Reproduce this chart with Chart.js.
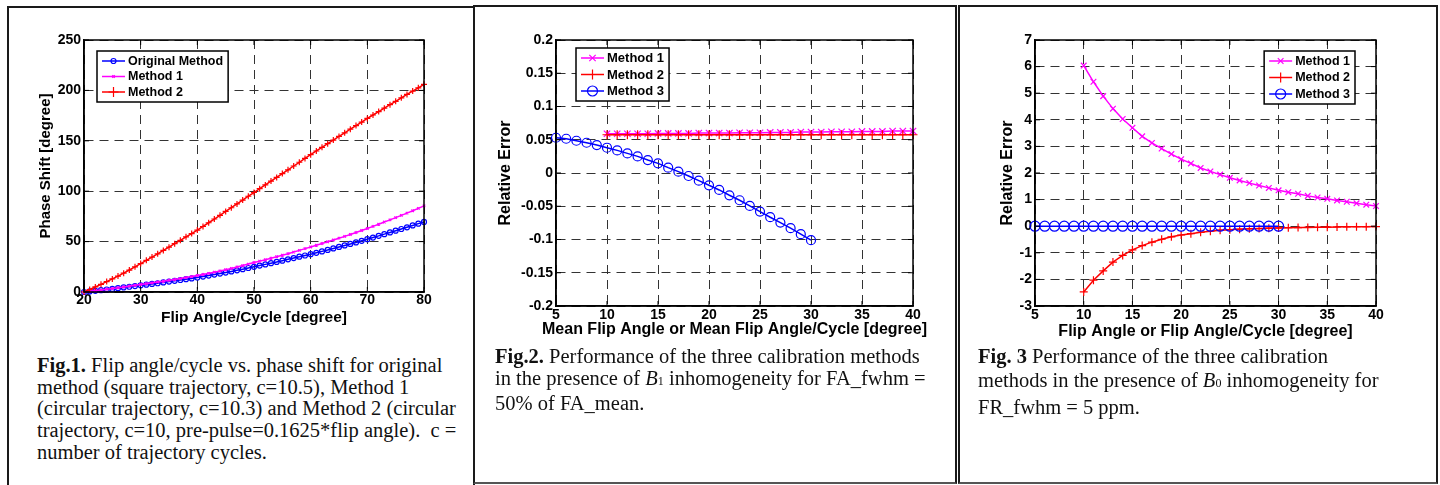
<!DOCTYPE html>
<html>
<head>
<meta charset="utf-8">
<script src="https://cdn.jsdelivr.net/npm/chart.js@4.4.1/dist/chart.umd.min.js"></script>
<style>
  html, body { margin: 0; padding: 0; background: #fff; }
  #page { position: relative; width: 1440px; height: 485px; overflow: hidden; background: #fff; }
  .panel { position: absolute; border: 2px solid #1a1a1a; box-sizing: border-box; }
  canvas { position: absolute; top: 0; }
  .caption {
    position: absolute; white-space: nowrap; color: #111;
    font-family: "Liberation Serif", "Times New Roman", serif; font-size: 20.5px;
  }
  .caption b { font-weight: bold; }
  .sub { font-size: 12px; }
</style>
</head>
<body>
<div id="page">
  <div class="panel" style="left:7px; top:6px; width:468px; height:490px;"></div>
  <div class="panel" style="left:473px; top:5px; width:484px; height:479px; border-bottom-color:#555;"></div>
  <div class="panel" style="left:958px; top:5px; width:480px; height:479px; border-bottom-color:#555;"></div>

  <canvas id="fig1" width="474" height="340" style="left:0px;"></canvas>
  <canvas id="fig2" width="490" height="345" style="left:470px;"></canvas>
  <canvas id="fig3" width="485" height="345" style="left:955px;"></canvas>

  <div class="caption" style="left:37px; top:355px; line-height:21.7px;">
    <b>Fig.1.</b> Flip angle/cycle vs. phase shift for original<br>
    method (square trajectory, c=10.5), Method 1<br>
    (circular trajectory, c=10.3) and Method 2 (circular<br>
    trajectory, c=10, pre-pulse=0.1625*flip angle).&nbsp; c =<br>
    number of trajectory cycles.
  </div>
  <div class="caption" style="left:495px; top:345px; line-height:22.2px;">
    <b>Fig.2.</b> Performance of the three calibration methods<br>
    in the presence of <i>B</i><span class="sub">1</span> inhomogeneity for FA_fwhm =<br>
    50% of FA_mean.
  </div>
  <div class="caption" style="left:978px; top:344px; line-height:24px;">
    <b>Fig. 3</b> Performance of the three calibration<br>
    methods in the presence of <i>B</i><span class="sub">0</span> inhomogeneity for<br>
    FR_fwhm = 5 ppm.
  </div>
</div>

<script>
// ─── Fig.1 data: phase shift [degree] vs flip angle/cycle ────────────────────
const FIG1_X = [
  20, 21, 22, 23, 24, 25, 26, 27, 28, 29,
  30, 31, 32, 33, 34, 35, 36, 37, 38, 39,
  40, 41, 42, 43, 44, 45, 46, 47, 48, 49,
  50, 51, 52, 53, 54, 55, 56, 57, 58, 59,
  60, 61, 62, 63, 64, 65, 66, 67, 68, 69,
  70, 71, 72, 73, 74, 75, 76, 77, 78, 79,
  80,
];
const FIG1_ORIGINAL = [
  0, 0.6, 1.2, 1.8, 2.5, 3.1, 3.8, 4.5, 5.2, 5.9,
  6.6, 7.3, 8.0, 8.7, 9.5, 10.3, 11.1, 11.9, 12.7, 13.5,
  14.4, 15.3, 16.3, 17.3, 18.3, 19.3, 20.4, 21.5, 22.6, 23.8,
  25.0, 26.2, 27.4, 28.6, 29.8, 31.1, 32.4, 33.7, 35.0, 36.2,
  37.5, 38.9, 40.3, 41.7, 43.2, 44.7, 46.2, 47.7, 49.2, 50.8,
  52.4, 54.0, 55.7, 57.4, 59.1, 60.8, 62.5, 64.2, 66.0, 67.8,
  69.5,
];
const FIG1_METHOD1 = [
  0, 0.7, 1.4, 2.1, 2.8, 3.5, 4.2, 5.0, 5.8, 6.6,
  7.5, 8.3, 9.1, 9.9, 10.7, 11.6, 12.4, 13.3, 14.3, 15.3,
  16.3, 17.4, 18.5, 19.7, 20.9, 22.1, 23.4, 24.8, 26.2, 27.7,
  29.2, 30.6, 32.0, 33.5, 35.0, 36.5, 38.0, 39.6, 41.3, 43.0,
  44.7, 46.4, 48.1, 49.8, 51.6, 53.4, 55.2, 57.1, 59.0, 61.0,
  63.0, 65.1, 67.2, 69.4, 71.6, 73.8, 76.0, 78.3, 80.6, 83.0,
  85.4,
];
const FIG1_METHOD2 = [
  0, 2.5, 5.0, 7.6, 10.3, 13.0, 15.8, 18.7, 21.8, 25.0,
  28.2, 31.4, 34.6, 37.9, 41.2, 44.5, 47.9, 51.3, 54.7, 58.0,
  61.4, 65.0, 68.7, 72.4, 76.1, 79.9, 83.6, 87.4, 91.2, 95.0,
  98.7, 102.5, 106.2, 110.0, 113.7, 117.5, 121.2, 125.0, 128.7, 132.5,
  136.2, 139.9, 143.5, 147.1, 150.7, 154.3, 157.9, 161.5, 165.1, 168.6,
  172.2, 175.6, 179.0, 182.4, 185.8, 189.2, 192.6, 196.0, 199.3, 202.6,
  206.0,
];
const FIG1_X_TICKS = [20, 30, 40, 50, 60, 70, 80];
const FIG1_Y_TICKS = [0, 50, 100, 150, 200, 250];
const FIG1_Y_LABELS = ['0', '50', '100', '150', '200', '250'];

// ─── Fig.2 / Fig.3 shared x values ───────────────────────────────────────────
const X_10_40 = [
  10, 11, 12, 13, 14, 15, 16, 17, 18, 19, 20,
  21, 22, 23, 24, 25, 26, 27, 28, 29, 30,
  31, 32, 33, 34, 35, 36, 37, 38, 39, 40,
];
const X_5_30 = [
  5, 6, 7, 8, 9, 10, 11, 12, 13, 14, 15, 16, 17,
  18, 19, 20, 21, 22, 23, 24, 25, 26, 27, 28, 29, 30,
];
const X_TICKS_5_40 = [5, 10, 15, 20, 25, 30, 35, 40];

// ─── Fig.2 data: relative error, B1 inhomogeneity ────────────────────────────
const FIG2_METHOD1 = [
  0.059, 0.059, 0.059, 0.059, 0.059, 0.0595, 0.0595, 0.0595, 0.0595, 0.06, 0.06,
  0.06, 0.06, 0.0605, 0.0605, 0.0605, 0.061, 0.061, 0.061, 0.0615, 0.0615,
  0.0615, 0.062, 0.062, 0.062, 0.0625, 0.0625, 0.0625, 0.063, 0.063, 0.063,
];
const FIG2_METHOD2 = [
  0.0575, 0.0575, 0.0575, 0.0575, 0.0575, 0.0575, 0.0575, 0.0575, 0.0575, 0.0575, 0.0575,
  0.0575, 0.0575, 0.0575, 0.0575, 0.0575, 0.0575, 0.0575, 0.0575, 0.0575, 0.0575,
  0.0575, 0.0575, 0.0575, 0.0575, 0.0575, 0.0575, 0.0575, 0.0575, 0.0575, 0.0575,
];
const FIG2_METHOD3 = [
  0.053, 0.0515, 0.0485, 0.0455, 0.042, 0.038, 0.034, 0.0295, 0.025, 0.0195, 0.0145, 0.008, 0.002,
  -0.0045, -0.0115, -0.0185, -0.0255, -0.0335, -0.041, -0.0495, -0.058, -0.0665, -0.0745, -0.083, -0.092, -0.101,
];
const FIG2_Y_TICKS = [-0.2, -0.15, -0.1, -0.05, 0, 0.05, 0.1, 0.15, 0.2];
const FIG2_Y_LABELS = ['-0.2', '-0.15', '-0.1', '-0.05', '0', '0.05', '0.1', '0.15', '0.2'];

// ─── Fig.3 data: relative error, B0 inhomogeneity ────────────────────────────
const FIG3_METHOD1 = [
  6.04, 5.43, 4.89, 4.42, 4.03, 3.70, 3.38, 3.13, 2.92, 2.71, 2.52,
  2.36, 2.19, 2.06, 1.94, 1.82, 1.72, 1.62, 1.53, 1.44, 1.35,
  1.28, 1.22, 1.14, 1.08, 1.03, 0.97, 0.92, 0.86, 0.81, 0.76,
];
const FIG3_METHOD2 = [
  -2.47, -2.03, -1.68, -1.35, -1.10, -0.89, -0.73, -0.60, -0.49, -0.40, -0.33,
  -0.28, -0.23, -0.19, -0.15, -0.13, -0.11, -0.10, -0.09, -0.075, -0.065,
  -0.055, -0.05, -0.045, -0.04, -0.035, -0.03, -0.025, -0.02, -0.02, -0.015,
];
const FIG3_METHOD3 = [
  0, 0, 0, 0, 0, 0, 0, 0, 0, 0, 0, 0, 0,
  0, 0, 0, 0, 0, 0, 0, 0, 0, 0, 0, 0, 0,
];
const FIG3_Y_TICKS = [-3, -2, -1, 0, 1, 2, 3, 4, 5, 6, 7];
const FIG3_Y_LABELS = ['-3', '-2', '-1', '0', '1', '2', '3', '4', '5', '6', '7'];

const BLUE = '#0000ff';
const MAGENTA = '#ff00ff';
const RED = '#ff0000';
const FONT = '"Liberation Sans", Arial, sans-serif';

Chart.defaults.font.family = FONT;
Chart.defaults.font.weight = 'bold';
Chart.defaults.color = '#000';

// ─── Plugins: MATLAB-ish axes box with inward ticks, boxed legend ────────────
const axesBox = {
  id: 'axesBox',
  afterDatasetsDraw(chart) {
    const { ctx, chartArea: a, scales: { x, y } } = chart;
    ctx.save();
    ctx.setLineDash([]);
    ctx.strokeStyle = '#000';
    ctx.lineWidth = 1;
    ctx.beginPath();
    for (const t of x.ticks) {
      const px = x.getPixelForValue(t.value);
      ctx.moveTo(px, a.bottom); ctx.lineTo(px, a.bottom - 5);
      ctx.moveTo(px, a.top); ctx.lineTo(px, a.top + 5);
    }
    for (const t of y.ticks) {
      const py = y.getPixelForValue(t.value);
      ctx.moveTo(a.left, py); ctx.lineTo(a.left + 5, py);
      ctx.moveTo(a.right, py); ctx.lineTo(a.right - 5, py);
    }
    ctx.stroke();
    ctx.lineWidth = 1.5;
    ctx.strokeRect(a.left, a.top, a.right - a.left, a.bottom - a.top);
    ctx.restore();
  },
};

// Chart.js squeezes an axis title to the plot width; the long x titles here
// are wider than that, so they are drawn by hand at full width.
const xAxisTitle = {
  id: 'xAxisTitle',
  afterDraw(chart, args, opts) {
    const { ctx, chartArea: a } = chart;
    ctx.save();
    ctx.font = `bold ${opts.size}px ${FONT}`;
    ctx.fillStyle = '#000';
    ctx.textAlign = 'center';
    ctx.textBaseline = 'middle';
    ctx.fillText(opts.text, (a.left + a.right) / 2, opts.y);
    ctx.restore();
  },
};

const boxLegend = {
  id: 'boxLegend',
  afterDraw(chart, args, opts) {
    const { ctx, chartArea: a } = chart;
    const sets = chart.data.datasets;
    ctx.save();
    ctx.font = `bold ${opts.fontSize}px ${FONT}`;
    const textW = Math.max(...sets.map(d => ctx.measureText(d.label).width));
    const w = 5 + 23 + 3 + textW + 5;
    const h = 20 + (sets.length - 1) * opts.rowGap;
    const left = opts.anchor === 'right' ? a.right - opts.dx - w : a.left + opts.dx;
    const top = a.top + opts.dy;
    ctx.fillStyle = '#fff';
    ctx.fillRect(left, top, w, h);
    ctx.strokeStyle = '#000';
    ctx.lineWidth = 1.5;
    ctx.strokeRect(left, top, w, h);
    sets.forEach((d, i) => {
      const cy = top + 10 + i * opts.rowGap;
      ctx.strokeStyle = d.borderColor;
      ctx.lineWidth = d.borderWidth;
      ctx.beginPath();
      ctx.moveTo(left + 5, cy);
      ctx.lineTo(left + 28, cy);
      ctx.stroke();
      ctx.fillStyle = 'rgba(0,0,0,0)';
      ctx.lineWidth = d.pointBorderWidth;
      Chart.helpers.drawPoint(ctx, {
        pointStyle: d.pointStyle,
        radius: opts.markerSizes[i],
        rotation: 0,
        borderWidth: d.pointBorderWidth,
      }, left + 16.5, cy);
      ctx.fillStyle = '#000';
      ctx.textBaseline = 'middle';
      ctx.textAlign = 'left';
      ctx.fillText(d.label, left + 31, cy + 0.5);
    });
    ctx.restore();
  },
};

// ─── Chart helpers ───────────────────────────────────────────────────────────
function series(label, xs, ys, color, style, radius, order) {
  return {
    label,
    data: xs.map((x, i) => ({ x, y: ys[i] })),
    borderColor: color,
    borderWidth: 1.5,
    pointStyle: style,
    pointRadius: radius,
    pointBorderColor: color,
    pointBackgroundColor: 'rgba(0,0,0,0)',
    pointBorderWidth: 1.2,
    tension: 0,
    clip: false,
    order,
  };
}

function drawFigure(canvasId, datasets, ax) {
  return new Chart(document.getElementById(canvasId), {
    type: 'line',
    data: { datasets },
    plugins: [axesBox, xAxisTitle, boxLegend],
    options: {
      responsive: false,
      animation: false,
      devicePixelRatio: 1,
      layout: { padding: { top: 40, right: ax.padRight, left: 0, bottom: 0 } },
      plugins: {
        legend: { display: false },
        tooltip: { enabled: false },
        boxLegend: ax.legend,
        xAxisTitle: { text: ax.xTitle, y: ax.xTitleY, size: ax.titleSize },
      },
      scales: {
        x: {
          type: 'linear',
          min: ax.xTicks[0],
          max: ax.xTicks[ax.xTicks.length - 1],
          afterBuildTicks: s => { s.ticks = ax.xTicks.map(v => ({ value: v })); },
          afterFit: s => { s.height = ax.xHeight; },
          ticks: { autoSkip: false, maxRotation: 0, padding: ax.xTickPad, font: { size: 14, weight: 'bold' }, color: '#000' },
          grid: { color: '#333', lineWidth: 1, drawTicks: false },
          border: { display: true, color: '#000', width: 1.5, dash: [9, 6] },
        },
        y: {
          type: 'linear',
          min: ax.yTicks[0],
          max: ax.yTicks[ax.yTicks.length - 1],
          afterBuildTicks: s => { s.ticks = ax.yTicks.map(v => ({ value: v })); },
          afterFit: s => { s.width = ax.yWidth; },
          ticks: { autoSkip: false, padding: 3, font: { size: 14, weight: 'bold' }, color: '#000', callback: (v, i) => ax.yLabels[i] },
          grid: { color: '#333', lineWidth: 1, drawTicks: false },
          border: { display: true, color: '#000', width: 1.5, dash: [9, 6] },
          title: { display: true, text: ax.yTitle, padding: { top: ax.yTitlePad, bottom: 0 }, font: { size: ax.yTitleSize, weight: 'bold' }, color: '#000' },
        },
      },
    },
  });
}

// ─── Fig.1 ───────────────────────────────────────────────────────────────────
drawFigure('fig1', [
  series('Original Method', FIG1_X, FIG1_ORIGINAL, BLUE, 'circle', 2.5, 3),
  series('Method 1', FIG1_X, FIG1_METHOD1, MAGENTA, 'crossRot', 1.8, 2),
  series('Method 2', FIG1_X, FIG1_METHOD2, RED, 'cross', 3, 1),
], {
  xTicks: FIG1_X_TICKS, yTicks: FIG1_Y_TICKS, yLabels: FIG1_Y_LABELS,
  padRight: 50, xHeight: 48, yWidth: 84, xTickPad: 0,
  xTitle: 'Flip Angle/Cycle [degree]', xTitleY: 318, titleSize: 15.5,
  yTitle: 'Phase Shift [degree]', yTitlePad: 37, yTitleSize: 15,
  legend: { anchor: 'left', dx: 13, dy: 11, fontSize: 12.5, rowGap: 15.5, markerSizes: [2.5, 1.8, 5] },
});

// ─── Fig.2 ───────────────────────────────────────────────────────────────────
drawFigure('fig2', [
  series('Method 1', X_10_40, FIG2_METHOD1, MAGENTA, 'crossRot', 4.5, 3),
  series('Method 2', X_10_40, FIG2_METHOD2, RED, 'cross', 4.5, 2),
  series('Method 3', X_5_30, FIG2_METHOD3, BLUE, 'circle', 4.5, 1),
], {
  xTicks: X_TICKS_5_40, yTicks: FIG2_Y_TICKS, yLabels: FIG2_Y_LABELS,
  padRight: 47, xHeight: 39, yWidth: 86, xTickPad: 1,
  xTitle: 'Mean Flip Angle or Mean Flip Angle/Cycle [degree]', xTitleY: 330, titleSize: 16,
  yTitle: 'Relative Error', yTitlePad: 26, yTitleSize: 16,
  legend: { anchor: 'left', dx: 20, dy: 8, fontSize: 13, rowGap: 16.5, markerSizes: [4.5, 5, 5] },
});

// ─── Fig.3 ───────────────────────────────────────────────────────────────────
drawFigure('fig3', [
  series('Method 1', X_10_40, FIG3_METHOD1, MAGENTA, 'crossRot', 4, 3),
  series('Method 2', X_10_40, FIG3_METHOD2, RED, 'cross', 4, 2),
  series('Method 3', X_5_30, FIG3_METHOD3, BLUE, 'circle', 5, 1),
], {
  xTicks: X_TICKS_5_40, yTicks: FIG3_Y_TICKS, yLabels: FIG3_Y_LABELS,
  padRight: 64, xHeight: 39, yWidth: 80, xTickPad: 1,
  xTitle: 'Flip Angle or Flip Angle/Cycle [degree]', xTitleY: 332, titleSize: 16,
  yTitle: 'Relative Error', yTitlePad: 43, yTitleSize: 16,
  legend: { anchor: 'right', dx: 21, dy: 11, fontSize: 12.5, rowGap: 16.5, markerSizes: [4, 5, 5] },
});
</script>
</body>
</html>
